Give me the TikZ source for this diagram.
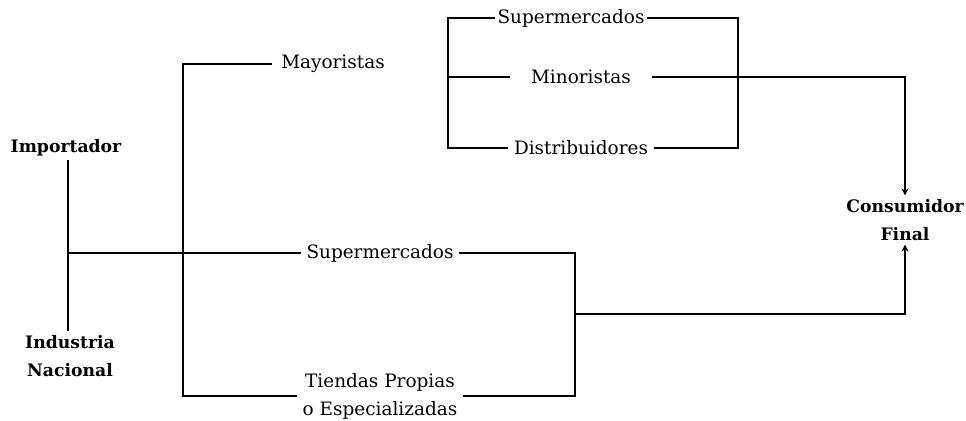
\documentclass[tikz,border=0pt]{standalone}
\usepackage{fontspec}
\setmainfont{DejaVu Serif}
\usetikzlibrary{positioning,arrows.meta}

\begin{document}
\begin{tikzpicture}[x=0.02cm,y=-0.02cm]
	% 定义节点和线条样式
	\tikzstyle{origin} = [font=\fontsize{9.8}{16}\selectfont\bfseries, align=center, inner sep=2pt]	% 起点与终点
	\tikzstyle{channel} = [font=\fontsize{10.5}{16}\selectfont, align=center, inner sep=3pt]	% 渠道
	\tikzstyle{line} = [line width=1pt]
	\tikzstyle{arrow} = [line width=1pt,-{Stealth[length=4pt,width=4pt]}]	% 定义箭头
	\useasboundingbox (0,0) rectangle (966,421);
	\node (imp) [origin] at (66,148) {Importador};
	\node (ind) [origin] at (70,356) {Industria\\Nacional};
	\node (may) [channel,inner xsep=5pt] at (333,64) {Mayoristas};
	\node (sup2) [channel] at (380,253) {Supermercados};
	\node (tie) [channel] at (380,396) {Tiendas Propias\\o Especializadas};
	\node (sup1) [channel,inner xsep=1pt] at (571,18) {Supermercados};
	\node (min) [channel,inner xsep=12pt] at (581,77) {Minoristas};
	\node (dis) [channel] at (581,148) {Distribuidores};
	\node (con) [origin] at (905,220) {Consumidor\\Final};

	% 分支点
	\coordinate (j1) at (68,253);
	\coordinate (j2) at (183,253);
	\coordinate (j3) at (575,314);

	% 连接具体形状
	\draw [line] (imp.south -| j1) -- (ind.north -| j1);
	\draw [line] (j1) -- (sup2.west);
	\draw [line] (may.west) -| (j2) |- (tie.west);
	\draw [line] (sup2.east) -| (j3) |- (tie.east);
	\draw [arrow] (j3) -| (con.south);
	\draw [line] (sup1.west) -| (448,77) |- (dis.west);
	\draw [line] (min.west) -- (448,77);
	\draw [line] (sup1.east) -| (738,77) |- (dis.east);
	\draw [arrow] (min.east) -| (con.north);
\end{tikzpicture}
\end{document}
